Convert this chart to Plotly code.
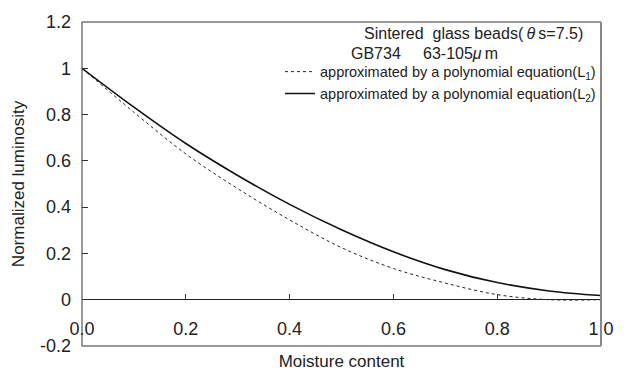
import plotly.graph_objects as go

moisture = [0.0, 0.1, 0.2, 0.3, 0.4, 0.5, 0.6, 0.7, 0.8, 0.9, 1.0]
lum_L1 = [1.0, 0.81, 0.63, 0.48, 0.345, 0.225, 0.135, 0.072, 0.022, 0.0, 0.0]
lum_L2 = [1.0, 0.832, 0.675, 0.537, 0.412, 0.302, 0.207, 0.130, 0.074, 0.038, 0.018]

x_ticks = [0.0, 0.2, 0.4, 0.6, 0.8, 1.0]
x_ticktext = ["0.0", "0.2", "0.4", "0.6", "0.8", "1.0"]
y_ticks = [-0.2, 0.0, 0.2, 0.4, 0.6, 0.8, 1.0, 1.2]
y_ticktext = ["-0.2", "0", "0.2", "0.4", "0.6", "0.8", "1", "1.2"]

FONT = "Liberation Sans, Arial, sans-serif"
TXT = "#222"

fig = go.Figure()
fig.add_trace(go.Scatter(x=moisture, y=lum_L1, mode="lines", xaxis="x2", yaxis="y",
                         line=dict(color="#222", width=1, dash="dot", shape="spline"),
                         name="approximated by a polynomial equation(L<sub>1</sub>)"))
fig.add_trace(go.Scatter(x=moisture, y=lum_L2, mode="lines", xaxis="x2", yaxis="y",
                         line=dict(color="#111", width=1.6, shape="spline"),
                         name="approximated by a polynomial equation(L<sub>2</sub>)"))
fig.add_trace(go.Scatter(x=[0, 1], y=[None, None], xaxis="x", yaxis="y", showlegend=False,
                         hoverinfo="skip", mode="lines"))

zero_pos = 0.2 / 1.4

fig.update_layout(
    width=626, height=379,
    margin=dict(l=82, r=15, t=16, b=30),
    paper_bgcolor="white", plot_bgcolor="white",
    font=dict(family=FONT, color=TXT),
    showlegend=True,
    legend=dict(x=1.0, xanchor="right", y=0.896, yanchor="top", bgcolor="rgba(0,0,0,0)",
                font=dict(size=14.5, color=TXT), itemwidth=30, tracegroupgap=0,
                borderwidth=0),
    xaxis=dict(range=[0, 1], showline=False, showticklabels=False, ticks="",
               showgrid=False, zeroline=False,
               title=dict(text="Moisture content", font=dict(size=17, color=TXT), standoff=9)),
    xaxis2=dict(range=[0, 1], overlaying="x", anchor="free", position=zero_pos,
                tickvals=x_ticks, ticktext=x_ticktext, ticks="inside", ticklen=6,
                tickcolor="#333", showline=False, showgrid=False, zeroline=False,
                tickfont=dict(size=18, color=TXT), ticklabelstandoff=16),
    yaxis=dict(range=[-0.2, 1.2], tickvals=y_ticks, ticktext=y_ticktext, ticks="inside",
               ticklen=6, tickcolor="#333", showline=False,
               showgrid=False, zeroline=True, zerolinecolor="#222",
               zerolinewidth=1, tickfont=dict(size=18, color=TXT), ticklabelstandoff=10,
               title=dict(text="Normalized luminosity", font=dict(size=17, color=TXT),
                          standoff=11)),
)

# plot frame
fig.add_shape(type="rect", xref="x domain", yref="y domain", x0=0, x1=1, y0=0, y1=1,
              line=dict(color="#333", width=1), layer="above")
fig.add_shape(type="line", xref="x domain", yref="y domain", x0=1, x1=1, y0=0, y1=1,
              line=dict(color="#888", width=2), layer="above")

fig.add_annotation(xref="paper", yref="paper", x=0.755, y=0.966, xanchor="center", yanchor="middle",
                   text="Sintered\u00a0\u00a0glass beads(\u2009<i>θ</i>\u2009s=7.5)", showarrow=False,
                   font=dict(size=16, color=TXT))
fig.add_annotation(xref="paper", yref="paper", x=0.515, y=0.902, xanchor="left", yanchor="middle",
                   text="GB734\u00a0\u00a0\u00a0\u00a0\u00a063-105<i>μ</i>\u2009m", showarrow=False,
                   font=dict(size=16, color=TXT))

fig.write_html("out.html")
